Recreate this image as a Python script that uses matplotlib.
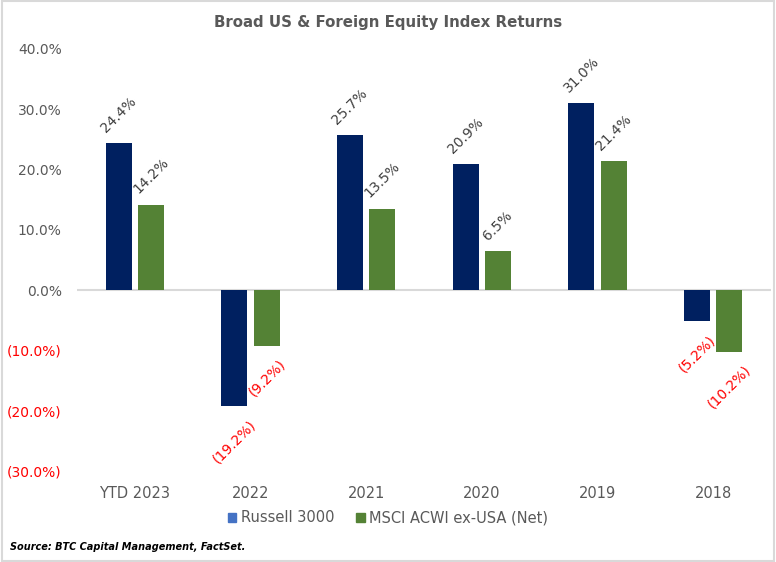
import matplotlib
matplotlib.use("Agg")
import matplotlib.pyplot as plt
from matplotlib.patches import Patch, Rectangle
import numpy as np

categories = ["YTD 2023", "2022", "2021", "2020", "2019", "2018"]
russell = [24.4, -19.2, 25.7, 20.9, 31.0, -5.2]
msci = [14.2, -9.2, 13.5, 6.5, 21.4, -10.2]
series_names = ["Russell 3000", "MSCI ACWI ex-USA (Net)"]
y_ticks = [40, 30, 20, 10, 0, -10, -20, -30]
y_tick_labels = ["40.0%", "30.0%", "20.0%", "10.0%", "0.0%", "(10.0%)", "(20.0%)", "(30.0%)"]
title = "Broad US & Foreign Equity Index Returns"
source = "Source: BTC Capital Management, FactSet."

navy = "#002060"
green = "#548235"
legend_blue = "#4472C4"
gray_text = "#595959"
red = "#FF0000"

plt.rcParams['font.family'] = ['DejaVu Sans']

fig = plt.figure(figsize=(7.76, 5.62), dpi=100)
ax = fig.add_axes([77/776, 1-471/562, (771-77)/776, (471-49)/562])

x = np.arange(len(categories))
w = 0.225
off = 0.14
b1 = ax.bar(x - off, russell, w, color=navy)
b2 = ax.bar(x + off, msci, w, color=green)

def fmt(v):
    return f"{v:.1f}%" if v >= 0 else f"({abs(v):.1f}%)"

for bars, vals in ((b1, russell), (b2, msci)):
    for rect, v in zip(bars, vals):
        cx = rect.get_x() + rect.get_width() / 2
        if v >= 0:
            ax.annotate(fmt(v), (cx, v), xytext=(0, 6), textcoords="offset points",
                        ha="center", va="bottom", rotation=45, fontsize=10, color="#404040")
        else:
            ax.annotate(fmt(v), (cx, v), xytext=(0, -8), textcoords="offset points",
                        ha="center", va="top", rotation=45, fontsize=10, color=red)

ax.set_xlim(-0.5, len(categories) - 0.5)
ax.set_ylim(-30, 40)
ax.axhline(0, color="#D9D9D9", lw=1.5, zorder=0.5)
ax.set_yticks(y_ticks)
ax.set_yticklabels(y_tick_labels, fontsize=10)
for t, v in zip(ax.get_yticklabels(), y_ticks):
    t.set_color(red if v < 0 else gray_text)
ax.set_xticks(x)
ax.set_xticklabels(categories, fontsize=10.5, color=gray_text)
ax.tick_params(axis="y", length=0, pad=11)
ax.tick_params(axis="x", length=0, pad=11)
for s in ax.spines.values():
    s.set_visible(False)

fig.text(0.5, 1 - 22/562, title, ha="center", va="center", fontsize=10.8,
         fontweight="bold", color=gray_text)

handles = [Patch(color=legend_blue), Patch(color=green)]
fig.legend(handles, series_names, loc="center", bbox_to_anchor=(0.5, 1 - 518/562),
           ncol=2, frameon=False, fontsize=10.5, handlelength=0.6, handleheight=0.6,
           handletextpad=0.3, columnspacing=1.5, labelcolor=gray_text)

fig.text(10/776, 1 - 547/562, source, ha="left", va="center", fontsize=7,
         fontweight="bold", fontstyle="italic", color="black")

fig.patches.append(Rectangle((0.002, 0.002), 0.996, 0.996, transform=fig.transFigure,
                             fill=False, edgecolor="#D9D9D9", lw=1.5))

fig.savefig("out.png", dpi=100)
